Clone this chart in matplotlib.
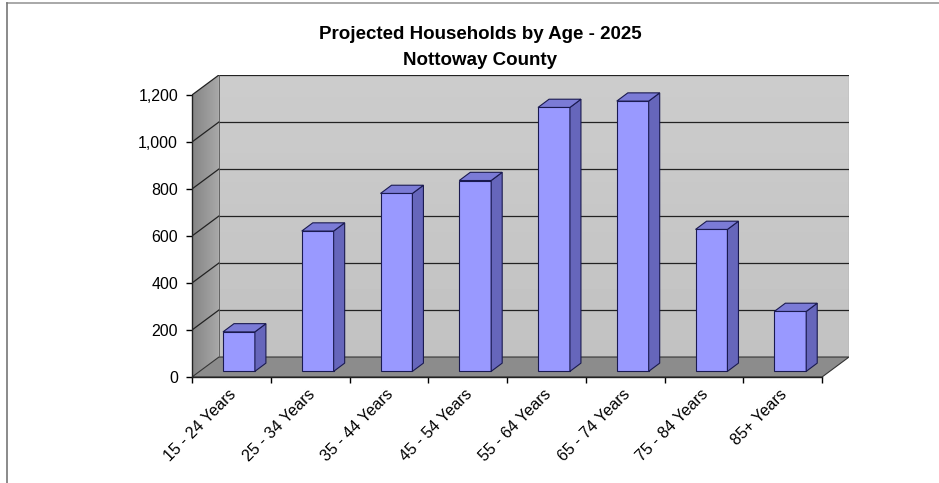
import numpy as np
import matplotlib
matplotlib.use("Agg")
import matplotlib.pyplot as plt
from matplotlib.patches import Polygon
from matplotlib.lines import Line2D

plt.rcParams['font.family'] = ['Liberation Sans', 'DejaVu Sans']

# data
categories = ["15 - 24 Years", "25 - 34 Years", "35 - 44 Years", "45 - 54 Years",
              "55 - 64 Years", "65 - 74 Years", "75 - 84 Years", "85+ Years"]
households = [168, 597, 757, 812, 1123, 1150, 604, 255]
yticks = [0, 200, 400, 600, 800, 1000, 1200]
title = "Projected Households by Age - 2025\nNottoway County"

# 3d look: depth of the box in data units
DX, DY = 0.342, 85.0        # wall depth
FX, FY = 0.096, 24.0        # bar front offset
BX, BY = 0.14, 35.0         # bar depth
BW = 0.405                  # bar width
ymax = 1200
n = len(categories)

fig = plt.figure(figsize=(9.39, 4.83), dpi=100)
ax = fig.add_axes([192 / 939, 1 - 377 / 483, (849 - 192) / 939, (377 - 75) / 483])
ax.set_xlim(0, n + DX)
ax.set_ylim(0, ymax + DY)

# back wall with soft gradient
back = Polygon([(DX, DY), (n + DX, DY), (n + DX, ymax + DY), (DX, ymax + DY)],
               closed=True, facecolor="none", edgecolor="none")
ax.add_patch(back)
grad = np.linspace(0.80, 0.76, 50).reshape(-1, 1)
img = ax.imshow(grad, cmap="gray", vmin=0, vmax=1, aspect="auto", origin="upper",
                extent=(DX, n + DX, DY, ymax + DY), zorder=0)
img.set_clip_path(back)

# side wall
side = Polygon([(0, 0), (DX, DY), (DX, ymax + DY), (0, ymax)], closed=True,
               facecolor="none", edgecolor="none")
ax.add_patch(side)
grad2 = np.linspace(0.52, 0.66, 50).reshape(1, -1)
img2 = ax.imshow(grad2, cmap="gray", vmin=0, vmax=1, aspect="auto",
                 extent=(0, DX, 0, ymax + DY), zorder=0)
img2.set_clip_path(side)

# floor
ax.add_patch(Polygon([(0, 0), (n, 0), (n + DX, DY), (DX, DY)], closed=True,
                     facecolor="#8c8c8c", edgecolor="#333333", lw=0.8, zorder=1))

# gridlines
for v in yticks[1:]:
    ax.plot([DX, n + DX], [v + DY, v + DY], color="#222222", lw=0.9, zorder=1)
    ax.plot([0, DX], [v, v + DY], color="#222222", lw=0.9, zorder=1)
ax.plot([DX, DX], [DY, ymax + DY], color="#555555", lw=0.6, zorder=1)
ax.plot([n + DX, n + DX], [DY, ymax + DY], color="#555555", lw=0.8, zorder=1)

# bars
edge = "#1a1a50"
for i, v in enumerate(households):
    x0 = i + 0.5 - BW / 2 + FX
    x1 = x0 + BW
    ax.bar(x0, v, width=BW, bottom=FY, align="edge", color="#9999ff",
           edgecolor=edge, lw=0.8, zorder=3)
    ax.add_patch(Polygon([(x1, FY), (x1 + BX, FY + BY), (x1 + BX, v + FY + BY), (x1, v + FY)],
                         closed=True, facecolor="#6666bb", edgecolor=edge, lw=0.8, zorder=3))
    ax.add_patch(Polygon([(x0, v + FY), (x1, v + FY), (x1 + BX, v + FY + BY), (x0 + BX, v + FY + BY)],
                         closed=True, facecolor="#7b7bd6", edgecolor=edge, lw=0.8, zorder=3))

# axes
for s in ["top", "right", "bottom", "left"]:
    ax.spines[s].set_visible(False)
ax.plot([0, 0], [0, ymax], color="#222222", lw=1.0, zorder=4, clip_on=False)
ax.plot([0, n], [0, 0], color="#222222", lw=1.0, zorder=4, clip_on=False)

ax.set_yticks(yticks)
ax.set_yticklabels([f"{v:,}" for v in yticks])
ax.tick_params(axis="y", direction="out", length=4, width=1, pad=6, labelsize=11.5)
ax.set_xticks(range(n + 1))
ax.set_xticklabels([])
ax.tick_params(axis="x", which="major", direction="out", length=4, width=1)
ax.set_xticks([i + 0.53 for i in range(n)], minor=True)
ax.set_xticklabels(categories, minor=True, rotation=45, ha="right", va="center",
                   rotation_mode="anchor", fontsize=11.5)
ax.tick_params(axis="x", which="minor", length=0, pad=11)

fig.text(480 / 939, 1 - 47.5 / 483, title, ha="center", va="center",
         fontsize=13.5, fontweight="bold", linespacing=1.7)

# outer frame
fig.add_artist(Line2D([7 / 939, 1], [1 - 3 / 483, 1 - 3 / 483], color="#999999", lw=1.2))
fig.add_artist(Line2D([7 / 939, 7 / 939], [0, 1 - 3 / 483], color="#777777", lw=1.2))

fig.savefig("out.png", dpi=100)
